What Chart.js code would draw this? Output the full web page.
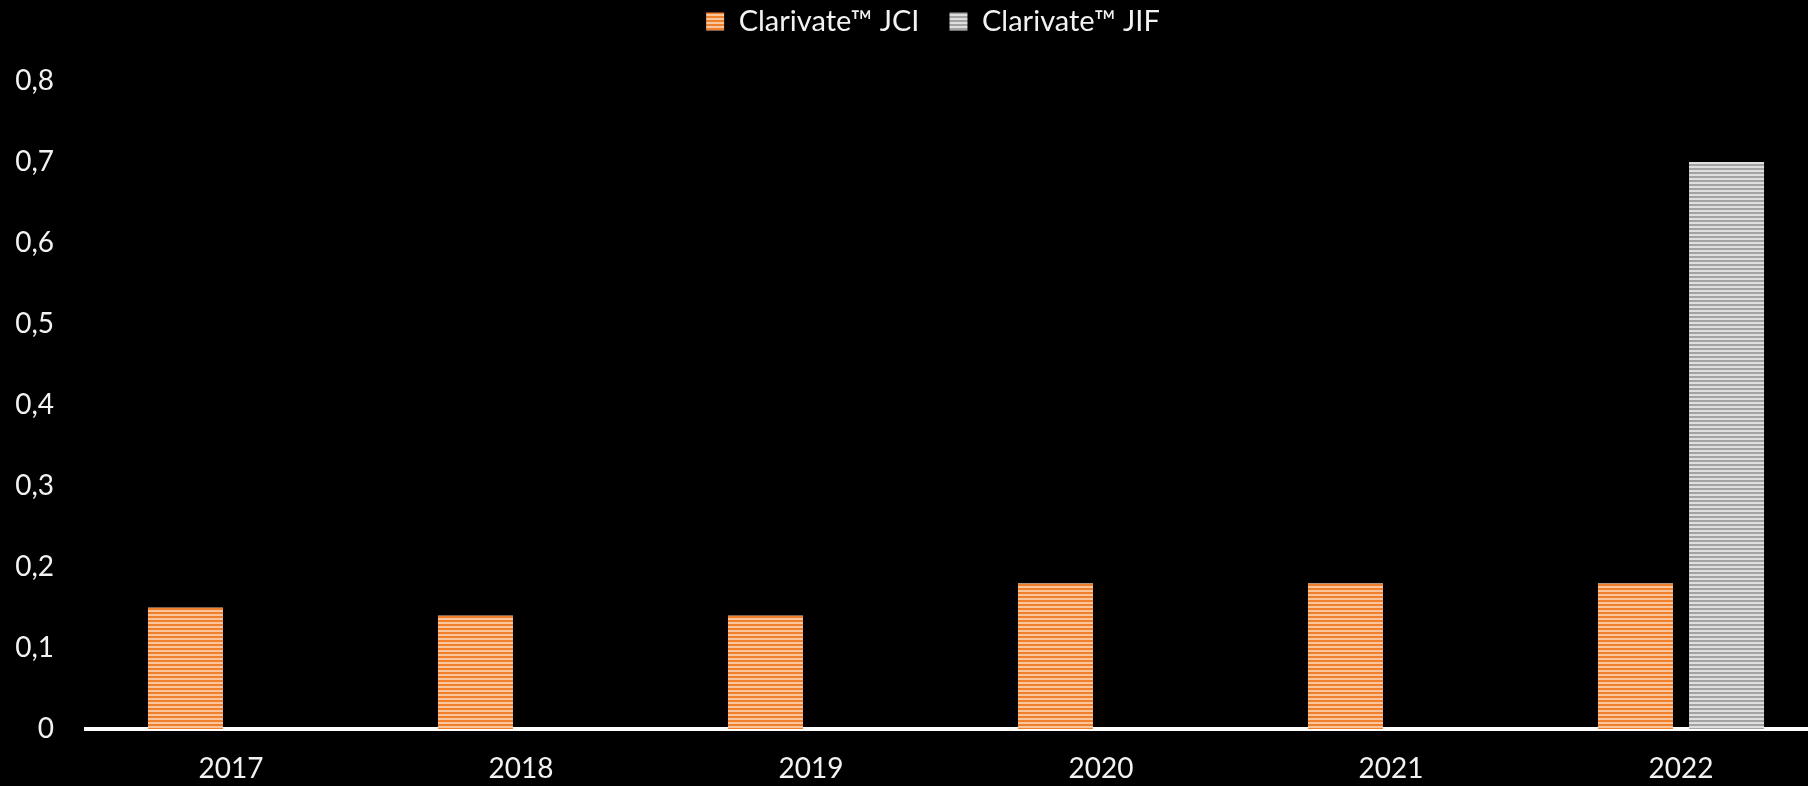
<!DOCTYPE html>
<html>
<head>
<meta charset="utf-8">
<script src="https://cdn.jsdelivr.net/npm/chart.js@4/dist/chart.umd.min.js"></script>
<style>
  html, body { margin: 0; padding: 0; background: #000; overflow: hidden; }
  #wrap { width: 1826px; height: 786px; }
</style>
</head>
<body>
<div id="wrap"><canvas id="grafico"></canvas></div>
<script>
const anos = ["2017", "2018", "2019", "2020", "2021", "2022"];
const jci = [0.15, 0.14, 0.14, 0.18, 0.18, 0.18];
const jif = [null, null, null, null, null, 0.70];
const rotulosY = ["0", "0,1", "0,2", "0,3", "0,4", "0,5", "0,6", "0,7", "0,8"];

// listras horizontais como no Excel
function listras(escura, clara) {
  const c = document.createElement("canvas");
  c.width = 4; c.height = 4;
  const g = c.getContext("2d");
  g.fillStyle = escura; g.fillRect(0, 0, 4, 2);
  g.fillStyle = clara; g.fillRect(0, 2, 4, 2);
  return g.createPattern(c, "repeat");
}

const laranja = listras("#f07f2c", "#f8c59c");
const cinza = listras("#a3a3a3", "#dedede");

// legenda mais alta e levemente à direita
const moveLegenda = {
  id: "moveLegenda",
  afterLayout(chart) {
    const l = chart.legend;
    l.left += 20; l.right += 20;
    l.top -= 35; l.bottom -= 35;
  }
};

Chart.defaults.font.family = "Lato, 'Open Sans', sans-serif";
Chart.defaults.color = "#f2f2f2";

new Chart(document.getElementById("grafico"), {
  type: "bar",
  data: {
    labels: anos,
    datasets: [
      { label: "Clarivate™ JCI", data: jci, backgroundColor: laranja, borderWidth: 0 },
      { label: "Clarivate™ JIF", data: jif, backgroundColor: cinza, borderWidth: 0 }
    ]
  },
  options: {
    responsive: true,
    maintainAspectRatio: false,
    animation: false,
    categoryPercentage: 0.628,
    barPercentage: 0.824,
    layout: { padding: { top: 12, right: 0, bottom: 0, left: 0 } },
    plugins: {
      legend: {
        position: "top",
        labels: {
          boxWidth: 18,
          boxHeight: 18,
          padding: 30,
          font: { size: 29 },
          color: "#f2f2f2"
        }
      },
      tooltip: { enabled: false }
    },
    scales: {
      x: {
        afterFit(scale) { scale.height = 57; },
        grid: { display: false, drawTicks: false },
        border: { display: true, color: "#ffffff", width: 4 },
        ticks: { font: { size: 28 }, padding: 23 }
      },
      y: {
        min: 0,
        max: 0.8,
        afterFit(scale) { scale.width = 86; },
        grid: { display: false, drawTicks: false },
        border: { display: false },
        ticks: {
          stepSize: 0.1,
          padding: 32,
          font: { size: 28 },
          callback: (v, i) => rotulosY[i]
        }
      }
    }
  },
  plugins: [moveLegenda]
});
</script>
</body>
</html>
